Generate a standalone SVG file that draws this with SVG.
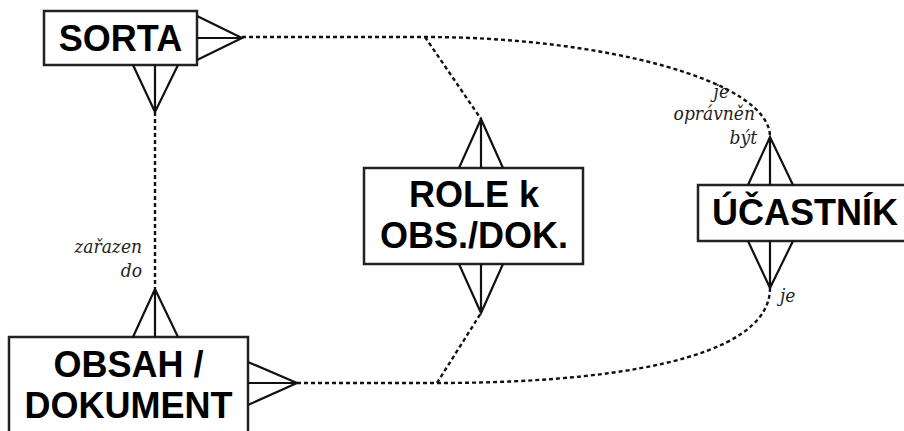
<svg xmlns="http://www.w3.org/2000/svg" width="904" height="431" viewBox="0 0 904 431">
  <style>
    .box { fill: #fff; stroke: #222; stroke-width: 2.5; }
    .foot { fill: none; stroke: #111; stroke-width: 2.2; stroke-linejoin: miter; }
    .rel { fill: none; stroke: #111; stroke-width: 2.4; stroke-dasharray: 4 3; }
    .name { font-family: "Liberation Sans", Arial, sans-serif; font-weight: bold; font-size: 36px; fill: #000; }
    .lbl { font-family: "DejaVu Serif Condensed", "DejaVu Serif", serif; font-stretch: condensed; font-style: italic; font-size: 19px; fill: #222; }
  </style>
  <rect width="904" height="431" fill="#fff"/>

  <!-- relationships (dashed) -->
  <g id="connectors">
    <path class="rel" d="M 155 112 L 155 289"/>
    <path class="rel" d="M 242 37 L 425 37 C 600 37 770 80 770 137"/>
    <path class="rel" d="M 425 37 L 481 119"/>
    <path class="rel" d="M 297 383 L 437 383"/>
    <path class="rel" d="M 437 383 L 481 313"/>
    <path class="rel" d="M 437 383 C 600 383 770 362 770 288"/>
    <text class="lbl" x="142" y="253" text-anchor="end">zařazen</text>
    <text class="lbl" x="142" y="277" text-anchor="end">do</text>
    <text class="lbl" x="729" y="98" text-anchor="end">je</text>
    <text class="lbl" x="755" y="120" text-anchor="end">oprávněn</text>
    <text class="lbl" x="757" y="144" text-anchor="end">být</text>
    <text class="lbl" x="780" y="302">je</text>
  </g>

  <g id="sorta">
    <rect class="box" x="44" y="11" width="153" height="54"/>
    <text class="name" x="120.5" y="51" text-anchor="middle">SORTA</text>
    <path class="foot" d="M 197 16 L 242 38 L 197 60 M 197 38 L 242 38"/>
    <path class="foot" d="M 133 65 L 155 112 L 178 65 M 155 65 L 155 112"/>
  </g>

  <g id="obsah">
    <rect class="box" x="9" y="337" width="239" height="110"/>
    <text class="name" x="128.5" y="377" text-anchor="middle">OBSAH /</text>
    <text class="name" x="128.5" y="418" text-anchor="middle">DOKUMENT</text>
    <path class="foot" d="M 133 337 L 155 289 L 178 337 M 155 337 L 155 289"/>
    <path class="foot" d="M 248 362 L 297 383 L 248 405 M 248 383 L 297 383"/>
  </g>

  <g id="role">
    <rect class="box" x="364" y="168" width="219" height="96"/>
    <text class="name" x="474" y="207" text-anchor="middle">ROLE k</text>
    <text class="name" x="474" y="248" text-anchor="middle">OBS./DOK.</text>
    <path class="foot" d="M 459 168 L 481 119 L 503 168 M 481 168 L 481 119"/>
    <path class="foot" d="M 459 264 L 481 313 L 503 264 M 481 264 L 481 313"/>
  </g>

  <g id="ucastnik">
    <rect class="box" x="698" y="185" width="220" height="56"/>
    <text class="name" x="712" y="225">ÚČASTNÍK</text>
    <path class="foot" d="M 748 185 L 770 137 L 793 185 M 770 185 L 770 137"/>
    <path class="foot" d="M 748 241 L 770 288 L 793 241 M 770 241 L 770 288"/>
  </g>
</svg>
